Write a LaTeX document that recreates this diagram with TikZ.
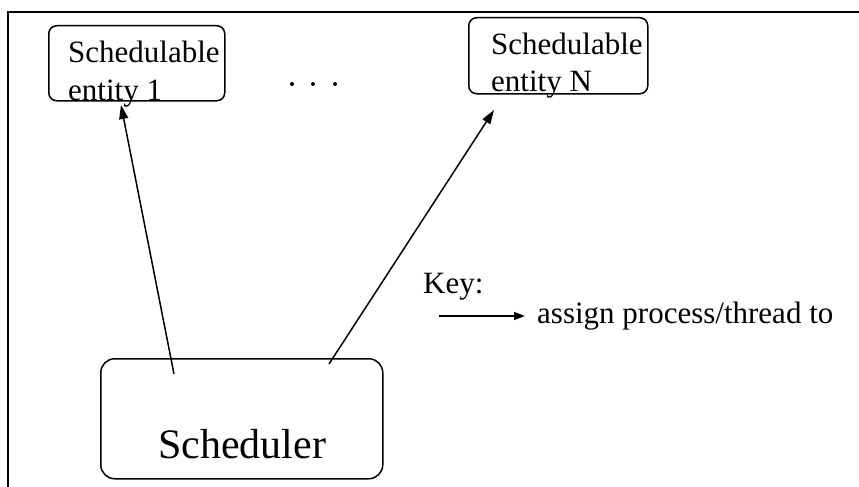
\documentclass[tikz,border=0pt]{standalone}
\usepackage{fontspec}
\setmainfont{Liberation Serif}
\usetikzlibrary{arrows.meta}
\begin{document}
\begin{tikzpicture}[x=1pt,y=-1pt,
  box/.style={draw, line width=1.5pt, rounded corners=8pt, inner sep=0pt, anchor=north west},
  bigbox/.style={box, rounded corners=14pt},
  lbl/.style={anchor=base west, inner sep=0pt, font=\fontsize{31}{37}\selectfont},
  biglbl/.style={anchor=base west, inner sep=0pt, font=\fontsize{42}{50}\selectfont},
  conn/.style={line width=1.5pt, -{Triangle[length=14pt,width=9pt]}},
  keyconn/.style={line width=1.5pt, -{Triangle[length=11pt,width=8pt]}},
  frameline/.style={line width=1.6pt},
  dotmark/.style={circle, fill=black, inner sep=0pt, minimum size=4pt}
]
\useasboundingbox (0,0) rectangle (859,487);
% frame
\coordinate (fbl) at (8,487);
\coordinate (ftl) at (8,12);
\coordinate (ftr) at (859,12);
\draw[frameline] (fbl) -- (ftl) -- (ftr);
% entity 1
\node[box, minimum width=176pt, minimum height=75pt] (e1) at (48,25) {};
\node[lbl] (e1a) at (68,63) {Schedulable};
\node[lbl] (e1b) at (68,100) {entity 1};
% entity N
\node[box, minimum width=179pt, minimum height=76pt] (eN) at (468,17) {};
\node[lbl] (eNa) at (491,55) {Schedulable};
\node[lbl] (eNb) at (491,92) {entity N};
% dots
\node[dotmark] (d1) at (292,84) {};
\node[dotmark] (d2) at (313,84) {};
\node[dotmark] (d3) at (335,84) {};
% scheduler
\node[bigbox, minimum width=282pt, minimum height=120pt] (sch) at (100,358) {};
\node[biglbl] (schl) at (158,458) {Scheduler};
% connectors
\coordinate (a1s) at (174,374);
\coordinate (a1e) at (121,105);
\coordinate (aNs) at (329,364);
\coordinate (aNe) at (494,110);
\draw[conn] (a1s) -- (a1e);
\draw[conn] (aNs) -- (aNe);
% key
\node[lbl] (key) at (423,293) {Key:};
\coordinate (ks) at (439,316);
\coordinate (ke) at (525,316);
\draw[keyconn] (ks) -- (ke);
\node[lbl] (keyl) at (537,323) {assign process/thread to};
\end{tikzpicture}
\end{document}
